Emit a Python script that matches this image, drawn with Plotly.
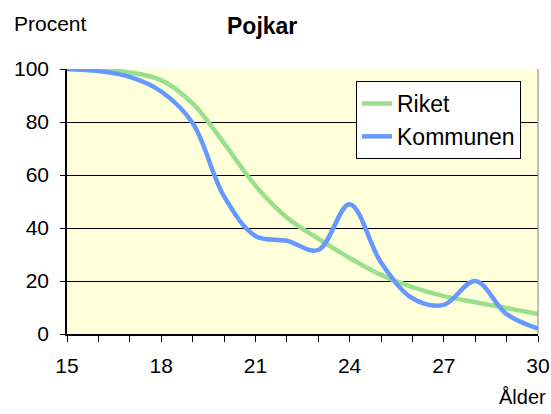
import plotly.graph_objects as go

ages = [15, 16, 17, 18, 19, 20, 21, 22, 23, 24, 25, 26, 27, 28, 29, 30]
riket = [100, 99.6, 98.7, 95.8, 87, 72, 56, 44, 36, 28.7, 22.3, 17.7, 14.3, 12, 9.8, 7.5]
kommunen = [100, 99.2, 97, 91.5, 79.6, 52, 37, 35.2, 31.7, 49, 27, 13.5, 11, 20, 7.5, 2]
x_labels = [str(a) if (a - 15) % 3 == 0 else "" for a in ages]
y_ticks = [0, 20, 40, 60, 80, 100]

FONT = "Liberation Sans, Arial, sans-serif"
W, H = 551, 414
ML, MR, MT, MB = 67, 13, 69, 80

fig = go.Figure()
fig.add_trace(go.Scatter(x=ages, y=riket, name="Riket", mode="lines",
                         line=dict(color="#99e08c", width=4.5, shape="spline", smoothing=1)))
fig.add_trace(go.Scatter(x=ages, y=kommunen, name="Kommunen", mode="lines",
                         line=dict(color="#6699ff", width=4.5, shape="spline", smoothing=1)))

pw = W - ML - MR
ph = H - MT - MB
def px(xp):
    return (xp - ML) / pw
def py(yp):
    return (H - MB - yp) / ph

fig.update_layout(
    width=W, height=H,
    margin=dict(l=ML, r=MR, t=MT, b=MB, autoexpand=False),
    paper_bgcolor="white",
    plot_bgcolor="#ffffd9",
    font=dict(family=FONT, size=21, color="black"),
    showlegend=True,
    legend=dict(x=px(356), y=py(81), xanchor="left", yanchor="top",
                bgcolor="white", bordercolor="black", borderwidth=1,
                font=dict(size=23, family=FONT), tracegroupgap=0,
                itemwidth=30),
    annotations=[
        dict(text="Procent", x=px(12), y=py(23), xref="paper", yref="paper", xanchor="left",
             yanchor="middle", showarrow=False, font=dict(size=21)),
        dict(text="<b>Pojkar</b>", x=px(262), y=py(26), xref="paper", yref="paper", xanchor="center",
             yanchor="middle", showarrow=False, font=dict(size=23)),
        dict(text="Ålder", x=px(548), y=py(397), xref="paper", yref="paper", xanchor="right",
             yanchor="middle", showarrow=False, font=dict(size=20)),
    ],
)
fig.add_shape(type="line", xref="paper", yref="paper", x0=1, x1=1, y0=0, y1=1,
              line=dict(color="#808080", width=1))

fig.update_xaxes(range=[15, 30], tickvals=ages, ticktext=x_labels,
                 ticks="outside", ticklen=6, tickcolor="black",
                 showline=True, linecolor="black", linewidth=1.5,
                 showgrid=False, zeroline=False, tickfont=dict(size=21),
                 ticklabelstandoff=6)
fig.update_yaxes(range=[0, 100], tickvals=y_ticks,
                 ticks="outside", ticklen=5, tickcolor="black",
                 showline=True, linecolor="black", linewidth=1.5,
                 showgrid=True, gridcolor="black", gridwidth=1,
                 zeroline=False, tickfont=dict(size=21),
                 ticklabelstandoff=7)

fig.write_html("out.html", config={"displayModeBar": False},
               post_script="document.body.style.margin='0';")
